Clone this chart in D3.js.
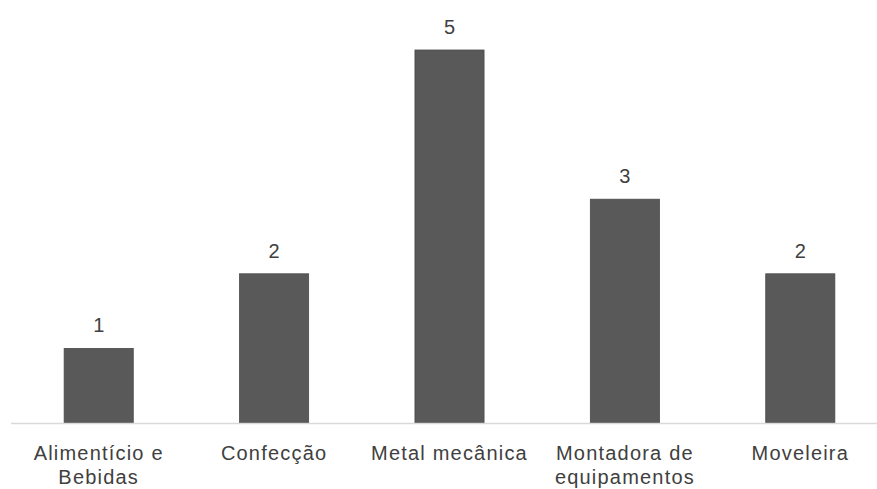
<!DOCTYPE html>
<html>
<head>
<meta charset="utf-8">
<script src="https://cdn.jsdelivr.net/npm/d3@7"></script>
<style>
  html, body { margin: 0; padding: 0; background: #ffffff; }
  svg { display: block; }
  text { font-family: "Liberation Sans", Arial, sans-serif; fill: #404040; }
</style>
</head>
<body>
<svg id="chart" width="877" height="489"></svg>
<script>
// Number of companies per industry sector
const categories = [["Alimentício e", "Bebidas"], ["Confecção"], ["Metal mecânica"], ["Montadora de", "equipamentos"], ["Moveleira"]];
const values = [1, 2, 5, 3, 2];

const width = 877, height = 489;
const svg = d3.select("#chart");

const x = d3.scaleBand()
  .domain(d3.range(categories.length))
  .range([11, 888])
  .paddingInner(0.606)
  .paddingOuter(0.303);

const y = d3.scaleLinear()
  .domain([0, 5])
  .range([423, 50]);

// bars
svg.append("g")
  .selectAll("rect")
  .data(values)
  .join("rect")
  .attr("x", (d, i) => x(i))
  .attr("y", d => y(d))
  .attr("width", x.bandwidth())
  .attr("height", d => y(0) - y(d))
  .attr("fill", "#595959")
  .attr("stroke", "#4a4a4a")
  .attr("stroke-width", 0.8);

// category axis line
svg.append("line")
  .attr("x1", 11).attr("x2", 877)
  .attr("y1", y(0) + 0.5).attr("y2", y(0) + 0.5)
  .attr("stroke", "#d9d9d9")
  .attr("stroke-width", 1.5);

// value labels
svg.append("g")
  .selectAll("text")
  .data(values)
  .join("text")
  .attr("x", (d, i) => x(i) + x.bandwidth() / 2)
  .attr("y", d => y(d) - 16)
  .attr("text-anchor", "middle")
  .attr("font-size", 20)
  .text(d => d);

// category labels
const labels = svg.append("g")
  .selectAll("text")
  .data(categories)
  .join("text")
  .attr("x", (d, i) => x(i) + x.bandwidth() / 2)
  .attr("y", 460)
  .attr("text-anchor", "middle")
  .attr("font-size", 20)
  .attr("letter-spacing", 1.2)
  .attr("fill", "#595959");

labels.selectAll("tspan")
  .data(d => d)
  .join("tspan")
  .attr("x", function () { return d3.select(this.parentNode).attr("x"); })
  .attr("dy", (d, i) => i === 0 ? 0 : 24)
  .text(d => d);
</script>
</body>
</html>
